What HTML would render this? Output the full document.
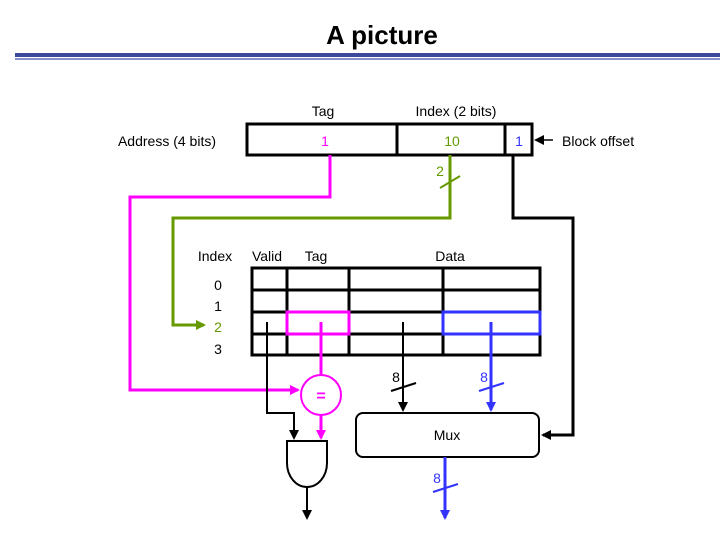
<!DOCTYPE html>
<html><head><style>
body{margin:0;background:#fff;}
svg{display:block;}
text{font-family:"Liberation Sans",sans-serif;font-size:14px;}
</style></head><body>
<svg width="720" height="540" viewBox="0 0 720 540" xmlns="http://www.w3.org/2000/svg">
<defs>
<marker id="ak" markerWidth="10" markerHeight="10" refX="8" refY="5" orient="auto" markerUnits="userSpaceOnUse"><path d="M0,0 L10,5 L0,10z" fill="#000"/></marker>
<marker id="am" markerWidth="10" markerHeight="10" refX="8" refY="5" orient="auto" markerUnits="userSpaceOnUse"><path d="M0,0 L10,5 L0,10z" fill="#f0f"/></marker>
<marker id="ag" markerWidth="10" markerHeight="10" refX="8" refY="5" orient="auto" markerUnits="userSpaceOnUse"><path d="M0,0 L10,5 L0,10z" fill="#669900"/></marker>
<marker id="ab" markerWidth="10" markerHeight="10" refX="8" refY="5" orient="auto" markerUnits="userSpaceOnUse"><path d="M0,0 L10,5 L0,10z" fill="#3333ff"/></marker>
</defs>
<text x="382" y="44" text-anchor="middle" style="font-size:26px;font-weight:bold">A picture</text>
<rect x="15" y="53" width="705" height="4" fill="#3c4a9a"/>
<rect x="15" y="58" width="705" height="2" fill="#8890c8"/>

<text x="323" y="116" text-anchor="middle">Tag</text>
<text x="456" y="116" text-anchor="middle">Index (2 bits)</text>
<text x="167" y="146" text-anchor="middle">Address (4 bits)</text>
<rect x="247" y="124" width="285" height="31" fill="none" stroke="#000" stroke-width="3"/>
<line x1="397" y1="124" x2="397" y2="155" stroke="#000" stroke-width="3"/>
<line x1="505" y1="124" x2="505" y2="155" stroke="#000" stroke-width="3"/>
<text x="325" y="146" text-anchor="middle" fill="#f0f">1</text>
<text x="452" y="146" text-anchor="middle" fill="#669900">10</text>
<text x="519" y="146" text-anchor="middle" fill="#3333ff">1</text>
<line x1="553" y1="140" x2="536" y2="140" stroke="#000" stroke-width="1.5" marker-end="url(#ak)"/>
<text x="562" y="146">Block offset</text>

<polyline points="330,155 330,197 130,197 130,390 298,390" fill="none" stroke="#f0f" stroke-width="3" marker-end="url(#am)"/>
<polyline points="450,155 450,218 173,218 173,325 204,325" fill="none" stroke="#669900" stroke-width="3" marker-end="url(#ag)"/>
<line x1="440" y1="188" x2="460" y2="176" stroke="#669900" stroke-width="2"/>
<text x="440" y="176" text-anchor="middle" fill="#669900">2</text>
<polyline points="513,155 513,218 573,218 573,435 543,435" fill="none" stroke="#000" stroke-width="3" marker-end="url(#ak)"/>

<text x="215" y="261" text-anchor="middle">Index</text>
<text x="267" y="261" text-anchor="middle">Valid</text>
<text x="316" y="261" text-anchor="middle">Tag</text>
<text x="450" y="261" text-anchor="middle">Data</text>
<text x="218" y="290" text-anchor="middle">0</text>
<text x="218" y="311" text-anchor="middle">1</text>
<text x="218" y="332" text-anchor="middle" fill="#669900">2</text>
<text x="218" y="354" text-anchor="middle">3</text>
<g stroke="#000" stroke-width="3" fill="none">
<rect x="252" y="268" width="288" height="87"/>
<line x1="252" y1="290" x2="540" y2="290"/>
<line x1="252" y1="312" x2="540" y2="312"/>
<line x1="252" y1="334" x2="540" y2="334"/>
<line x1="287" y1="268" x2="287" y2="355"/>
<line x1="349" y1="268" x2="349" y2="355"/>
<line x1="443" y1="268" x2="443" y2="355"/>
</g>
<rect x="287" y="312" width="62" height="22" fill="none" stroke="#f0f" stroke-width="3"/>
<rect x="443" y="312" width="97" height="22" fill="none" stroke="#3333ff" stroke-width="3"/>

<polyline points="267,322 267,413 294,413 294,438" fill="none" stroke="#000" stroke-width="2" marker-end="url(#ak)"/>
<line x1="321" y1="322" x2="321" y2="375" stroke="#f0f" stroke-width="3"/>
<circle cx="321" cy="395" r="20" fill="#fff" stroke="#f0f" stroke-width="2"/>
<text x="321" y="401" text-anchor="middle" fill="#f0f" style="font-size:16px;font-weight:bold">=</text>
<line x1="321" y1="415" x2="321" y2="438" stroke="#f0f" stroke-width="3" marker-end="url(#am)"/>
<path d="M287,441 L327,441 L327,463 A20,24 0 0 1 287,463 Z" fill="#fff" stroke="#000" stroke-width="2"/>
<line x1="307" y1="487" x2="307" y2="518" stroke="#000" stroke-width="2" marker-end="url(#ak)"/>

<line x1="403" y1="322" x2="403" y2="410" stroke="#000" stroke-width="2" marker-end="url(#ak)"/>
<line x1="391" y1="391" x2="416" y2="383" stroke="#000" stroke-width="2"/>
<text x="396" y="382" text-anchor="middle">8</text>
<line x1="491" y1="322" x2="491" y2="410" stroke="#3333ff" stroke-width="3" marker-end="url(#ab)"/>
<line x1="479" y1="391" x2="504" y2="383" stroke="#3333ff" stroke-width="2"/>
<text x="484" y="382" text-anchor="middle" fill="#3333ff">8</text>
<rect x="356" y="413" width="183" height="44" rx="7" fill="#fff" stroke="#000" stroke-width="2"/>
<text x="447" y="440" text-anchor="middle">Mux</text>
<line x1="445" y1="457" x2="445" y2="518" stroke="#3333ff" stroke-width="3" marker-end="url(#ab)"/>
<line x1="433" y1="492" x2="458" y2="484" stroke="#3333ff" stroke-width="2"/>
<text x="437" y="483" text-anchor="middle" fill="#3333ff">8</text>
</svg>
</body></html>
